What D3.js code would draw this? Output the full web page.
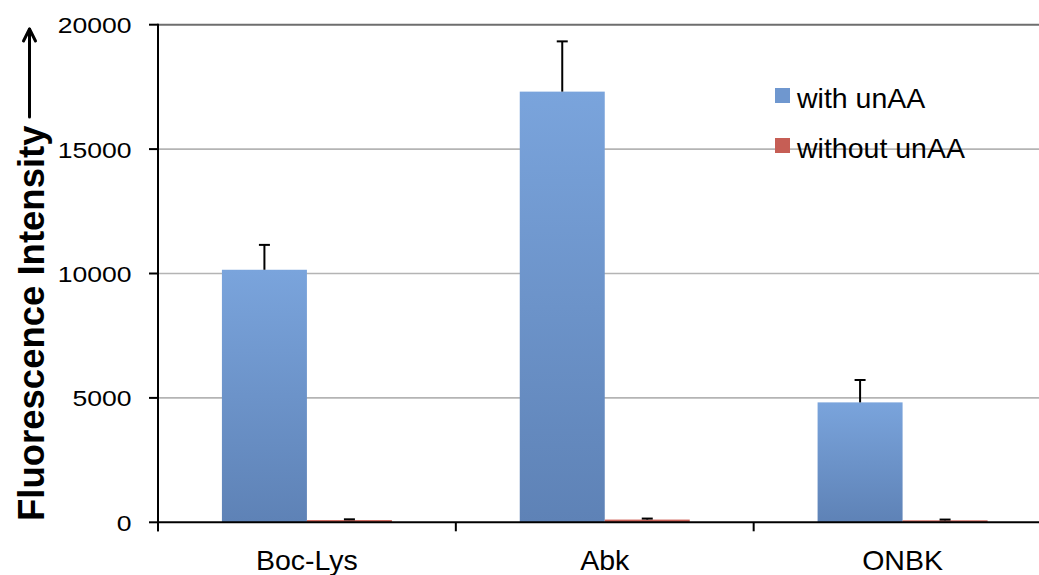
<!DOCTYPE html>
<html>
<head>
<meta charset="utf-8">
<script src="https://cdn.jsdelivr.net/npm/d3@7"></script>
<style>
  html, body { margin: 0; padding: 0; background: #fff; }
  svg { display: block; }
  text { font-family: "Liberation Sans", Arial, sans-serif; fill: #000; }
</style>
</head>
<body>
<svg id="chart" width="1039" height="575"></svg>
<script>
// Data
const categories = ["Boc-Lys", "Abk", "ONBK"];
const seriesNames = ["with unAA", "without unAA"];
const withUnAA = [10150, 17310, 4820];
const withUnAAErr = [1000, 2020, 900];
const withoutUnAA = [90, 110, 80];
const withoutUnAAErr = [30, 40, 30];
const yTicks = [0, 5000, 10000, 15000, 20000];

const svg = d3.select("#chart");
const W = 1039, H = 575;

// Plot area (the right side of the last category runs past the canvas edge)
const x0 = 158, x1 = 1051.5, yBottom = 522.3, yTop = 24.7;

const x = d3.scaleBand().domain(categories).range([x0, x1]).paddingInner(0).paddingOuter(0);
const xs = d3.scaleBand().domain(seriesNames).range([0, x.bandwidth()]).paddingInner(0).paddingOuter(0.752);
const y = d3.scaleLinear().domain([0, 20000]).range([yBottom, yTop]);

// Gradients for bar fills
const defs = svg.append("defs");
const gBlue = defs.append("linearGradient").attr("id", "gradBlue")
  .attr("x1", 0).attr("y1", 0).attr("x2", 0).attr("y2", 1);
gBlue.append("stop").attr("offset", "0%").attr("stop-color", "#7aa4dc");
gBlue.append("stop").attr("offset", "100%").attr("stop-color", "#5e82b6");
const gRed = defs.append("linearGradient").attr("id", "gradRed")
  .attr("x1", 0).attr("y1", 0).attr("x2", 0).attr("y2", 1);
gRed.append("stop").attr("offset", "0%").attr("stop-color", "#d1675d");
gRed.append("stop").attr("offset", "100%").attr("stop-color", "#b9544c");

const clip = defs.append("clipPath").attr("id", "canvasClip");
clip.append("rect").attr("x", 0).attr("y", 0).attr("width", W).attr("height", H);

const root = svg.append("g").attr("clip-path", "url(#canvasClip)");

// Horizontal gridlines
root.append("g").selectAll("line")
  .data(yTicks.filter(t => t > 0))
  .join("line")
  .attr("x1", x0).attr("x2", x1)
  .attr("y1", d => y(d)).attr("y2", d => y(d))
  .attr("stroke", d => d === 20000 ? "#6e6e6e" : "#b4b4b4")
  .attr("stroke-width", d => d === 20000 ? 2 : 1.6);

// Bars
const series = [
  { name: seriesNames[0], values: withUnAA, errs: withUnAAErr, fill: "url(#gradBlue)" },
  { name: seriesNames[1], values: withoutUnAA, errs: withoutUnAAErr, fill: "url(#gradRed)" }
];

series.forEach(s => {
  const g = root.append("g");
  g.selectAll("rect")
    .data(categories.map((c, i) => ({ c, v: s.values[i] })))
    .join("rect")
    .attr("x", d => x(d.c) + xs(s.name))
    .attr("width", xs.bandwidth())
    .attr("y", d => y(d.v))
    .attr("height", d => y(0) - y(d.v))
    .attr("fill", s.fill);
});

// Error bars (upper half only)
series.forEach(s => {
  const g = root.append("g").attr("stroke", "#000").attr("stroke-width", 2);
  categories.forEach((c, i) => {
    const cx = x(c) + xs(s.name) + xs.bandwidth() / 2;
    const top = y(s.values[i] + s.errs[i]);
    g.append("line").attr("x1", cx).attr("x2", cx)
      .attr("y1", y(s.values[i])).attr("y2", top);
    g.append("line").attr("x1", cx - 5.5).attr("x2", cx + 5.5)
      .attr("y1", top).attr("y2", top);
  });
});

// X axis
const xAxisG = root.append("g").attr("stroke", "#000").attr("stroke-width", 2);
xAxisG.append("line").attr("x1", x0 - 1).attr("x2", x1).attr("y1", yBottom).attr("y2", yBottom);
const boundaries = categories.map(c => x(c)).concat([x1]);
xAxisG.selectAll(".xt").data(boundaries).join("line")
  .attr("class", "xt")
  .attr("x1", d => d).attr("x2", d => d)
  .attr("y1", yBottom).attr("y2", yBottom + 9);

root.append("g").selectAll("text")
  .data(categories)
  .join("text")
  .attr("x", d => x(d) + x.bandwidth() / 2)
  .attr("y", 570)
  .attr("text-anchor", "middle")
  .attr("font-size", 28.5)
  .text(d => d);

// Y axis
const yAxisG = root.append("g").attr("stroke", "#000").attr("stroke-width", 2);
yAxisG.append("line").attr("x1", x0).attr("x2", x0).attr("y1", yTop - 1).attr("y2", yBottom + 9);
yAxisG.selectAll(".yt").data(yTicks).join("line")
  .attr("class", "yt")
  .attr("x1", x0 - 9).attr("x2", x0)
  .attr("y1", d => y(d)).attr("y2", d => y(d));

root.append("g").selectAll("text")
  .data(yTicks)
  .join("text")
  .attr("transform", d => `translate(131.5, ${y(d) + 8.5}) scale(1.18, 1)`)
  .attr("text-anchor", "end")
  .attr("font-size", 22.5)
  .text(d => d);

// Y axis title with upward arrow
const titleX = 44;
root.append("text")
  .attr("transform", `translate(${titleX}, 521) rotate(-90)`)
  .attr("font-size", 36.5)
  .attr("font-weight", "bold")
  .text("Fluorescence Intensity");

const arrowX = 29.5;
const arrowG = root.append("g").attr("stroke", "#000").attr("stroke-width", 3)
  .attr("fill", "none").attr("stroke-linecap", "round").attr("stroke-linejoin", "round");
arrowG.append("line").attr("x1", arrowX).attr("x2", arrowX).attr("y1", 117).attr("y2", 29);
arrowG.append("path").attr("d", `M${arrowX - 6},${41} L${arrowX},${29} L${arrowX + 6},${41}`);

// Legend
const legend = root.append("g");
const legendItems = [
  { name: seriesNames[0], color: "#6f97cf", y: 88 },
  { name: seriesNames[1], color: "#c65e55", y: 138 }
];
legendItems.forEach(it => {
  legend.append("rect").attr("x", 775).attr("y", it.y).attr("width", 15).attr("height", 15)
    .attr("fill", it.color);
  legend.append("text").attr("x", 797).attr("y", it.y + 19.5)
    .attr("font-size", 28.5).text(it.name);
});
</script>
</body>
</html>
